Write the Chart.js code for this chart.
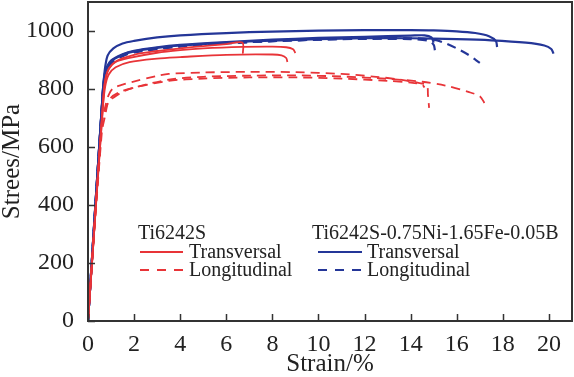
<!DOCTYPE html>
<html>
<head>
<meta charset="utf-8">
<title>Stress-strain curves</title>
<script src="https://cdn.jsdelivr.net/npm/chart.js@4/dist/chart.umd.min.js"></script>
<style>
  html, body { margin: 0; padding: 0; background: #fff; }
  #wrap { width: 574px; height: 377px; }
</style>
</head>
<body>
<div id="wrap"><canvas id="mycanvas" width="574" height="377"></canvas></div>
<script>
// tick labels
var xTicks = [0, 2, 4, 6, 8, 10, 12, 14, 16, 18, 20];
var yTicks = [0, 200, 400, 600, 800, 1000];

// Ti6242S, transversal (strain %, stress MPa)
var ti6242sTrans1 = [[0,0],[0.65,760],[0.75,830],[0.9,870],[1.2,893],[1.8,907],[3,925],[4,934],[5,940],[6.7,945],[8,946],[8.6,944],[8.9,937],[9.0,924]];
var ti6242sTrans2 = [[0,0],[0.65,740],[0.75,810],[0.9,850],[1.2,875],[1.8,893],[3,905],[4,910],[6,918],[8,919],[8.4,916],[8.6,907],[8.65,893]];
var ti6242sTrans3 = [[0,0],[0.7,800],[0.85,860],[1.2,895],[2,918],[3,931],[4,940],[5,948],[6,955],[6.7,960],[6.72,922]];

// Ti6242S, longitudinal
var ti6242sLong1 = [[0,0],[0.6,680],[0.75,740],[0.9,780],[1.1,803],[1.5,815],[1.9,824],[3,845],[3.5,852],[5,857],[7,859],[9,858],[11,852],[12.5,842],[13.5,833],[14.3,822],[14.7,812],[14.75,780],[14.8,735]];
var ti6242sLong2 = [[0,0],[0.6,680],[0.75,730],[1,770],[1.4,790],[2,805],[3.5,832],[5,842],[7,846],[9,847],[11,843],[13,835],[14.5,825],[15.5,812],[16.5,790],[17,775],[17.2,752]];
var ti6242sLong3 = [[0,0],[0.6,650],[0.75,710],[0.87,752],[1.1,770],[1.5,790],[2,805],[3.5,828],[5,836],[7,840],[9,840],[11,836],[13,828],[14,822],[14.5,815],[14.6,805]];

// Ti6242S-0.75Ni-1.65Fe-0.05B, transversal
var modTrans1 = [[0,0],[0.62,760],[0.72,860],[0.85,915],[1.1,940],[1.5,957],[2,966],[3,978],[4,985],[6,993],[8,998],[10,1001],[12,1003],[14,1003],[15,1002],[16,999],[16.8,993],[17.4,982],[17.7,965],[17.75,945]];
var modTrans2 = [[0,0],[0.65,800],[0.75,860],[1,898],[1.5,920],[2,932],[3,944],[4,952],[6,962],[8,970],[10,976],[12,980],[14,984],[14.6,985],[14.9,978],[15.0,960]];
var modTrans3 = [[0,0],[0.65,800],[0.75,850],[1,895],[1.5,918],[2,930],[3,942],[4,950],[6,960],[8,967],[10,972],[12,975],[14,975],[16,972],[17.5,968],[19,960],[19.8,950],[20.1,938],[20.2,922]];

// Ti6242S-0.75Ni-1.65Fe-0.05B, longitudinal
var modLong1 = [[0,0],[0.65,790],[0.75,845],[1,890],[1.5,915],[2,928],[4,948],[6,958],[8,965],[10,970],[12,973],[14,972],[14.8,966],[15,952],[15.05,934]];
var modLong2 = [[0,0],[0.65,790],[0.75,845],[1,888],[1.5,913],[2,926],[4,946],[6,957],[8,965],[10,970],[12,974],[14,975],[15,970],[15.5,958],[16,940],[16.5,918],[17,890]];

var red = "rgb(232, 52, 56)";
var blue = "rgb(36, 54, 152)";
var serif = "'Liberation Serif', 'Times New Roman', serif";

function series(pts, color, dashed) {
  return {
    data: pts.map(function(p){ return {x: p[0], y: p[1]}; }),
    borderColor: color,
    backgroundColor: color,
    borderWidth: color === blue ? 2.2 : 1.8,
    borderDash: dashed ? [9, 6] : [],
    showLine: true,
    pointRadius: 0,
    tension: 0.3,
    fill: false
  };
}

// frame, inward ticks and the legend block
var decorations = {
  id: "decorations",
  afterDraw: function(chart) {
    var ctx = chart.ctx;
    var a = chart.chartArea;
    var xs = chart.scales.x, ys = chart.scales.y;
    ctx.save();
    ctx.strokeStyle = "#333";
    ctx.lineWidth = 2;
    ctx.strokeRect(a.left, a.top, a.right - a.left, a.bottom - a.top);
    ctx.lineWidth = 1.5;
    ctx.beginPath();
    xTicks.forEach(function(v){
      var px = Math.round(xs.getPixelForValue(v)) + 0.5;
      ctx.moveTo(px, a.bottom); ctx.lineTo(px, a.bottom - 7);
    });
    yTicks.forEach(function(v){
      var py = Math.round(ys.getPixelForValue(v)) + 0.5;
      ctx.moveTo(a.left, py); ctx.lineTo(a.left + 7, py);
    });
    ctx.stroke();

    // legend
    ctx.font = "20px " + serif;
    ctx.fillStyle = "#222";
    ctx.textBaseline = "alphabetic";
    ctx.fillText("Ti6242S", 138, 239);
    ctx.fillText("Ti6242S-0.75Ni-1.65Fe-0.05B", 312, 239);
    var rows = [
      {y: 252, dash: false, text: "Transversal"},
      {y: 270, dash: true, text: "Longitudinal"}
    ];
    rows.forEach(function(r){
      [[140, 183, red, 189], [318, 362, blue, 367]].forEach(function(c){
        ctx.strokeStyle = c[2];
        ctx.lineWidth = 2;
        ctx.setLineDash(r.dash ? [9, 8] : []);
        ctx.beginPath();
        ctx.moveTo(c[0], r.y); ctx.lineTo(c[1], r.y);
        ctx.stroke();
        ctx.setLineDash([]);
        ctx.fillText(r.text, c[3], r.y + 6);
      });
    });
    ctx.restore();
  }
};

function plain(v) { return String(v); }

var ctx = document.getElementById("mycanvas");
var chart = new Chart(ctx, {
  type: "scatter",
  data: {
    datasets: [
      series(ti6242sLong1, red, true),
      series(ti6242sLong2, red, true),
      series(ti6242sLong3, red, true),
      series(ti6242sTrans1, red, false),
      series(ti6242sTrans2, red, false),
      series(ti6242sTrans3, red, false),
      series(modTrans1, blue, false),
      series(modTrans2, blue, false),
      series(modTrans3, blue, false),
      series(modLong1, blue, true),
      series(modLong2, blue, true)
    ]
  },
  options: {
    responsive: false,
    animation: false,
    layout: { padding: { top: 2, right: 2, left: 0, bottom: 0 } },
    plugins: { legend: { display: false }, tooltip: { enabled: false } },
    scales: {
      x: {
        type: "linear", min: 0, max: 21,
        afterBuildTicks: function(s){ s.ticks = xTicks.map(function(v){ return {value: v}; }); },
        afterFit: function(s){ s.height = 56; s.paddingLeft = 0; s.paddingRight = 0; },
        grid: { display: false },
        border: { display: false },
        ticks: { color: "#222", padding: 1, callback: plain, font: { family: serif, size: 24 } },
        title: { display: true, text: "Strain/%", color: "#222", padding: { top: 0, bottom: 0 }, font: { family: serif, size: 25, lineHeight: 1 } }
      },
      y: {
        type: "linear", min: 0, max: 1100,
        afterBuildTicks: function(s){ s.ticks = yTicks.map(function(v){ return {value: v}; }); },
        afterFit: function(s){ s.width = 88; s.paddingTop = 0; s.paddingBottom = 0; },
        grid: { display: false },
        border: { display: false },
        ticks: { color: "#222", padding: 6, callback: plain, font: { family: serif, size: 24 } },
        title: { display: true, text: "Strees/MPa", color: "#222", padding: { top: 0, bottom: 0 }, font: { family: serif, size: 25, lineHeight: 1 } }
      }
    }
  },
  plugins: [decorations]
});
</script>
</body>
</html>
